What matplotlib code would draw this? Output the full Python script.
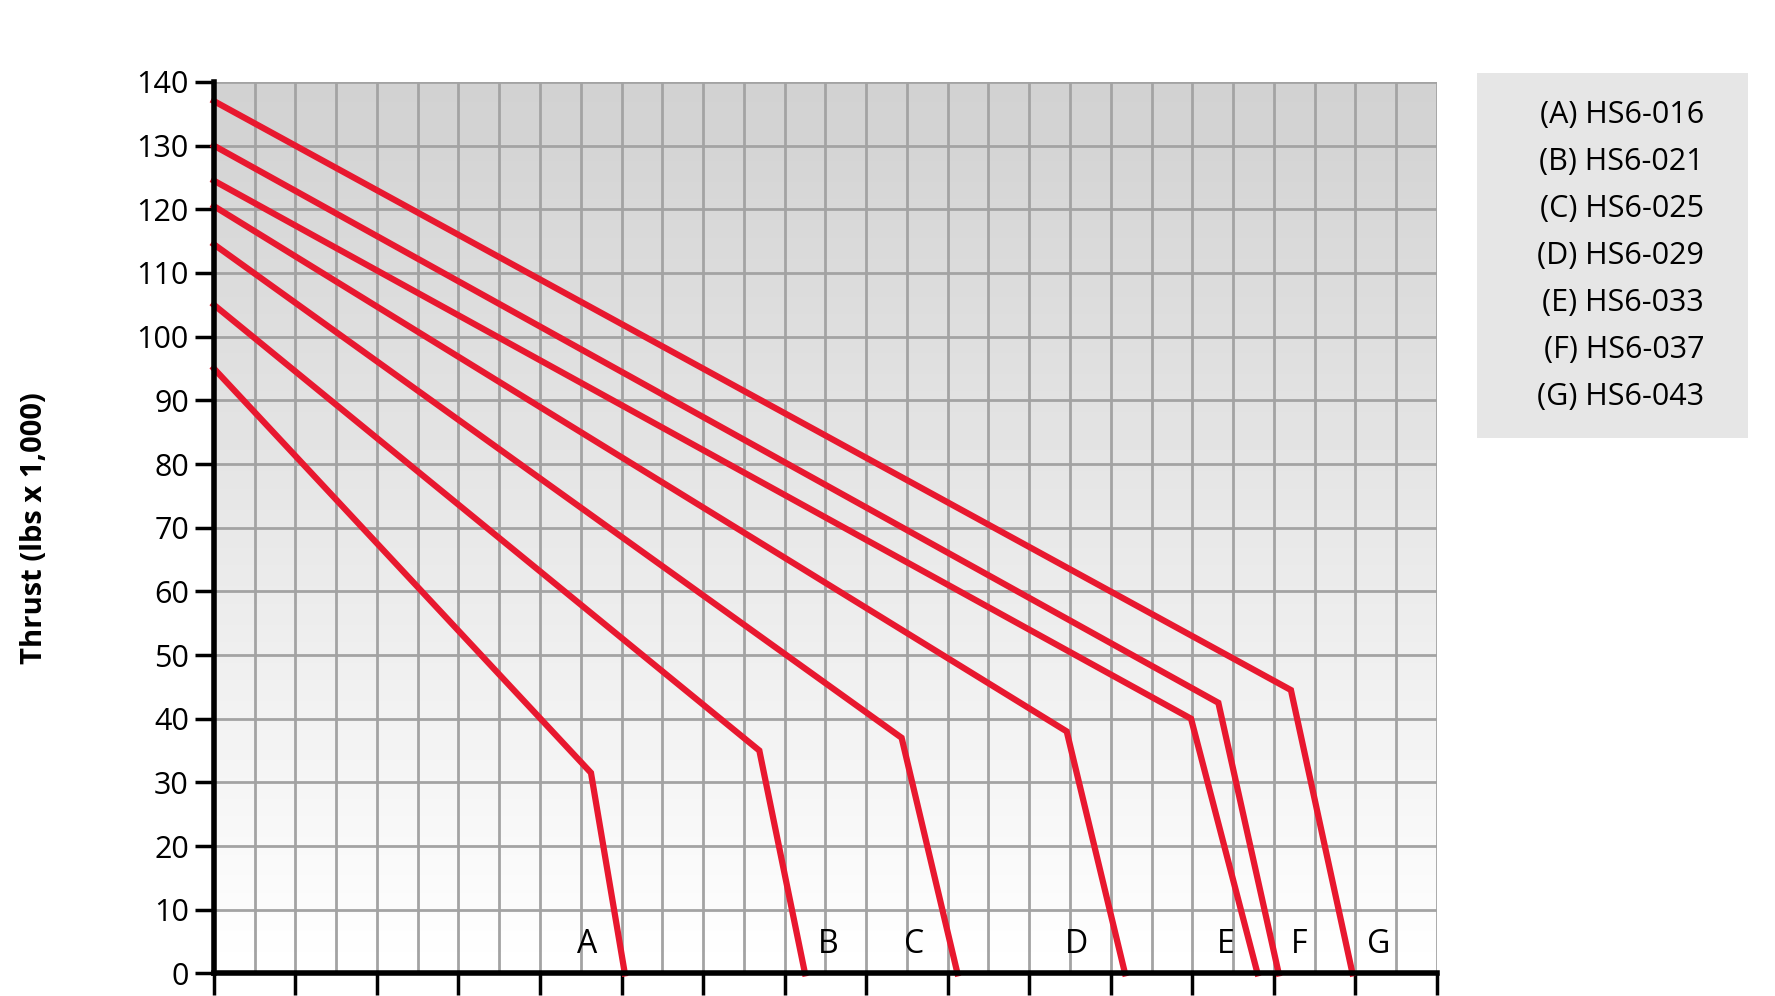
import matplotlib
matplotlib.use("Agg")
import matplotlib.pyplot as plt
import numpy as np
from matplotlib.patches import Rectangle

plt.rcParams['font.family'] = ['Open Sans', 'DejaVu Sans']

names = ["(A) HS6-016", "(B) HS6-021", "(C) HS6-025", "(D) HS6-029",
         "(E) HS6-033", "(F) HS6-037", "(G) HS6-043"]
letters = ["A", "B", "C", "D", "E", "F", "G"]
start_y = [95, 105, 114.5, 120.5, 124.5, 130, 137]
knee_x = [9.25, 13.38, 16.87, 20.92, 23.97, 24.64, 26.42]
knee_y = [31.5, 35, 37, 38, 40, 42.5, 44.5]
end_x = [10.08, 14.5, 18.24, 22.35, 25.6, 26.12, 27.93]
label_x = [9.16, 15.06, 17.18, 21.15, 24.83, 26.62, 28.58]
yticks = list(range(0, 141, 10))

fig = plt.figure(figsize=(17.75, 9.96), dpi=100)
ax = fig.add_axes([0.1205, 0.0227, 0.689, 0.895])

grad = np.linspace(1.0, 0.82, 256).reshape(-1, 1)
ax.imshow(grad, cmap='gray', vmin=0, vmax=1, extent=[0, 30, 0, 140],
          aspect='auto', zorder=0, origin='lower')
ax.set_xlim(0, 30)
ax.set_ylim(0, 140)

for x in range(1, 31):
    ax.axvline(x, color='#a3a3a3', lw=2, zorder=1)
for y in yticks[1:]:
    ax.axhline(y, color='#a3a3a3', lw=2, zorder=1)

for i in range(7):
    ax.plot([0, knee_x[i], end_x[i]], [start_y[i], knee_y[i], 0],
            color='#e8182f', lw=4.5, zorder=3, solid_joinstyle='miter', clip_on=False)
    ax.text(label_x[i], 4.5, letters[i], fontsize=23, ha='center', va='center', zorder=4)

for s in ['top', 'right']:
    ax.spines[s].set_visible(False)
for s in ['left', 'bottom']:
    ax.spines[s].set_linewidth(4)
    ax.spines[s].set_zorder(5)
ax.set_xticks(np.arange(0, 31, 2))
ax.set_xticklabels([])
ax.tick_params(axis='x', length=16, width=2.5, direction='out')
ax.set_yticks(yticks)
ax.set_yticklabels([str(v) for v in yticks], fontsize=22)
ax.tick_params(axis='y', length=14, width=2.5, direction='out', pad=4)
ax.set_ylabel("Thrust (lbs x 1,000)", fontsize=21, fontweight='bold')
ax.yaxis.set_label_coords(-0.135, 0.5)

fig.patches.append(Rectangle((0.832, 0.560), 0.153, 0.367, transform=fig.transFigure,
                             facecolor='#e6e6e6', edgecolor='none'))
for i, n in enumerate(names):
    fig.text(0.960, 0.885 - i * 0.0472, n, fontsize=22, ha='right', va='center')

fig.savefig("out.png", dpi=100)
